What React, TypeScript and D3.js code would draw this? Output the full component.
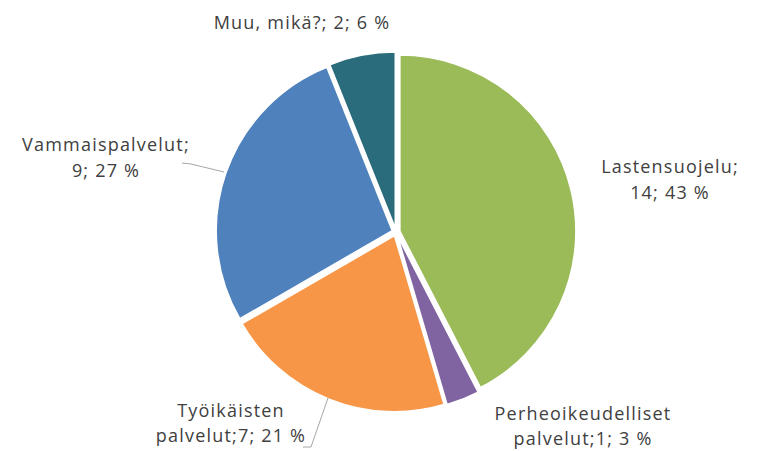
import React from "react";
import * as d3 from "d3";

const categories = ["Lastensuojelu", "Perheoikeudelliset palvelut", "Työikäisten palvelut", "Vammaispalvelut", "Muu, mikä?"];
const values = [14, 1, 7, 9, 2];
const percentLabels = ["43 %", "3 %", "21 %", "27 %", "6 %"];
const colors = ["#9BBB59", "#8064A2", "#F79646", "#4F81BD", "#2A6B7C"];

// label lines (text) for each slice
const labelLines = [
  ["Lastensuojelu;", "14; 43 %"],
  ["Perheoikeudelliset", "palvelut;1; 3 %"],
  ["Työikäisten", "palvelut;7; 21 %"],
  ["Vammaispalvelut;", "9; 27 %"],
  ["Muu, mikä?; 2; 6 %"],
];

const W = 760, H = 451;
const cx = 396, cy = 232, R = 176, explode = 4;

export default function App() {
  const pie = d3.pie<number>().value((d) => d).sort(null);
  const arcs = pie(values);
  const arcGen = d3.arc<d3.PieArcDatum<number>>().innerRadius(0).outerRadius(R);

  const labelPos = [
    { x: 670, y: 173 },
    { x: 583, y: 420 },
    { x: 231, y: 417 },
    { x: 106, y: 151 },
    { x: 302, y: 29 },
  ];
  const lineGap = [26, 25, 25, 26, 26];

  const leaders: Record<number, [number, number][]> = {
    2: [[328, 398], [311, 447], [303, 447]],
    3: [[182, 163], [191, 164], [224, 172]],
  };

  return (
    <svg width={W} height={H} style={{ position: "absolute", left: 0, top: 0, background: "#fff" }}>
      <g transform={`translate(${cx},${cy})`}>
        {arcs.map((a, i) => {
          const mid = (a.startAngle + a.endAngle) / 2;
          const dx = Math.sin(mid) * explode;
          const dy = -Math.cos(mid) * explode;
          return (
            <path
              key={categories[i]}
              d={arcGen(a) || ""}
              transform={`translate(${dx},${dy})`}
              fill={colors[i]}
              stroke="#fff"
              strokeWidth={1.5}
            />
          );
        })}
      </g>
      {Object.entries(leaders).map(([k, pts]) => (
        <polyline
          key={k}
          points={pts.map((p) => p.join(",")).join(" ")}
          fill="none"
          stroke="#A6A6A6"
          strokeWidth={1}
        />
      ))}
      {labelLines.map((lines, i) => (
        <text
          key={i}
          x={labelPos[i].x}
          y={labelPos[i].y}
          textAnchor="middle"
          fontFamily="'Open Sans', sans-serif"
          fontSize={18}
          letterSpacing={1.2}
          fill="#404040"
        >
          {lines.map((l, j) => (
            <tspan key={j} x={labelPos[i].x} dy={j === 0 ? 0 : lineGap[i]}>
              {l}
            </tspan>
          ))}
        </text>
      ))}
    </svg>
  );
}
